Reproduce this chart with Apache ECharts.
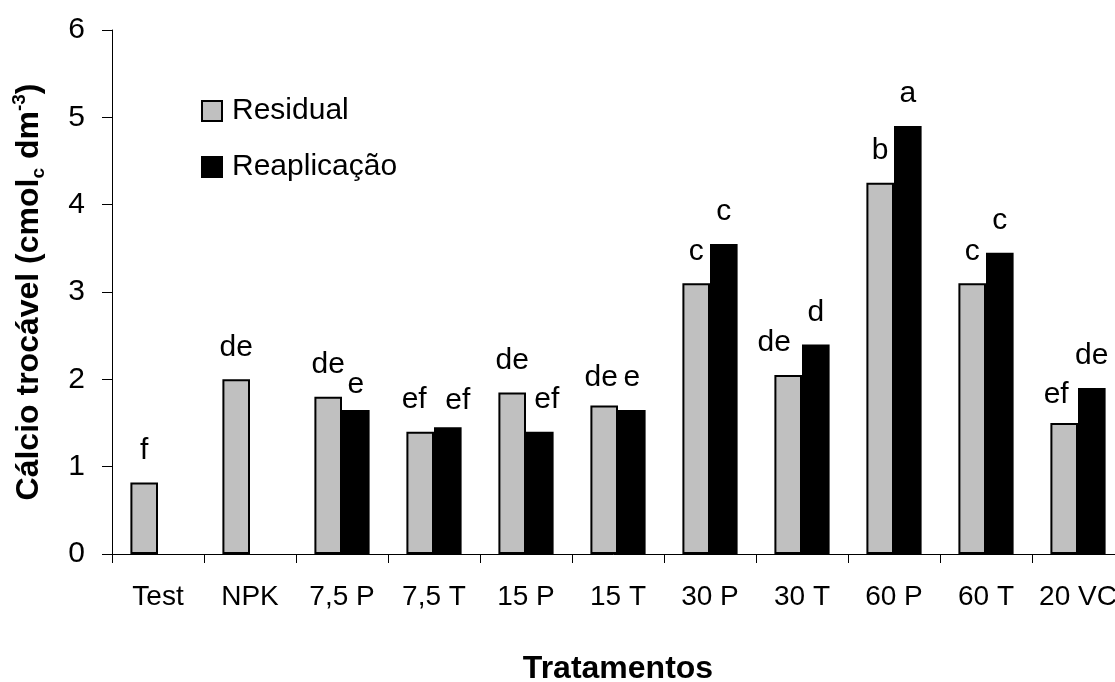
<!DOCTYPE html>
<html>
<head>
<meta charset="utf-8">
<script src="https://cdn.jsdelivr.net/npm/echarts@6/dist/echarts.min.js"></script>
<style>
  html, body { margin: 0; padding: 0; background: #fff; }
  #chart { width: 1115px; height: 682px; }
</style>
</head>
<body>
<div id="chart"></div>
<script>
// Exchangeable calcium per treatment (cmolc dm-3)
const categories = ['Test', 'NPK', '7,5 P', '7,5 T', '15 P', '15 T', '30 P', '30 T', '60 P', '60 T', '20 VC'];
const residual = [0.82, 2.00, 1.80, 1.40, 1.85, 1.70, 3.10, 2.05, 4.25, 3.10, 1.50];
const reaplicacao = [null, null, 1.65, 1.45, 1.40, 1.65, 3.55, 2.40, 4.90, 3.45, 1.90];
// Mean-comparison letters shown above the bars
const residualLetters = ['f', 'de', 'de', 'ef', 'de', 'de', 'c', 'de', 'b', 'c', 'ef'];
const reaplicacaoLetters = ['', '', 'e', 'ef', 'ef', 'e', 'c', 'd', 'a', 'c', 'de'];
const yTicks = [0, 1, 2, 3, 4, 5, 6];

// Small hand placement tweaks for letters that sit off-centre
const residualLabelShift = { '7,5 T': [-6, 0], '15 T': [-3, 4], '30 T': [-14, 0], '20 VC': [-8, 4] };
const reaplicacaoLabelShift = { '7,5 P': [0, 7], '7,5 T': [10, 5], '15 P': [7, 0] };

const FONT = 'Liberation Sans, Arial, Helvetica, sans-serif';

function buildData(values, letters, shifts) {
  return values.map(function (v, i) {
    const item = { value: v === null ? '-' : v, letter: letters[i] };
    const s = shifts[categories[i]];
    if (s) item.label = { offset: s };
    return item;
  });
}

const letterLabel = {
  show: true,
  position: 'top',
  distance: 17,
  color: '#000',
  fontFamily: FONT,
  fontSize: 30,
  formatter: function (p) { return p.data.letter || ''; }
};

const chart = echarts.init(document.getElementById('chart'), null, { renderer: 'canvas' });

chart.setOption({
  animation: false,
  backgroundColor: '#ffffff',
  textStyle: { fontFamily: FONT, color: '#000' },
  grid: { left: 112, right: -9, top: 30, bottom: 128, containLabel: false, outerBoundsMode: 'none' },
  legend: {
    orient: 'vertical',
    left: 201,
    top: 96,
    padding: 0,
    itemWidth: 20,
    itemHeight: 20,
    itemGap: 26,
    icon: 'rect',
    textStyle: { fontFamily: FONT, fontSize: 30, color: '#000', lineHeight: 30, padding: [0, 0, 0, 5] },
    data: ['Residual', 'Reaplicação']
  },
  xAxis: {
    type: 'category',
    data: categories,
    boundaryGap: true,
    name: 'Tratamentos',
    nameLocation: 'middle',
    nameGap: 99,
    nameTextStyle: { fontFamily: FONT, fontSize: 32, fontWeight: 'bold', color: '#000' },
    axisLine: { show: true, lineStyle: { color: '#000', width: 1 } },
    axisTick: { show: true, length: 9, inside: false, lineStyle: { color: '#000', width: 1 } },
    axisLabel: { color: '#000', fontFamily: FONT, fontSize: 28, margin: 29, interval: 0 },
    splitLine: { show: false }
  },
  yAxis: {
    type: 'value',
    min: 0,
    max: 6,
    interval: 1,
    name: 'Cálcio trocável (cmol{sub|c} dm{sup|-3})',
    nameLocation: 'middle',
    nameGap: 64,
    nameRotate: 90,
    nameTextStyle: {
      fontFamily: FONT, fontSize: 32, fontWeight: 'bold', color: '#000', lineHeight: 38,
      rich: {
        sub: { fontFamily: FONT, fontSize: 19, fontWeight: 'bold', color: '#000', verticalAlign: 'bottom', lineHeight: 38 },
        sup: { fontFamily: FONT, fontSize: 19, fontWeight: 'bold', color: '#000', verticalAlign: 'top', lineHeight: 38 }
      }
    },
    axisLine: { show: true, lineStyle: { color: '#000', width: 1 } },
    axisTick: { show: true, length: 10, inside: false, lineStyle: { color: '#000', width: 1 } },
    axisLabel: {
      color: '#000', fontFamily: FONT, fontSize: 30, margin: 27,
      formatter: function (v) { return yTicks.indexOf(v) >= 0 ? String(v) : ''; }
    },
    splitLine: { show: false }
  },
  series: [
    {
      name: 'Residual',
      type: 'bar',
      barWidth: '30%',
      barGap: '0%',
      itemStyle: { color: '#c0c0c0', borderColor: '#000', borderWidth: 2 },
      label: letterLabel,
      data: buildData(residual, residualLetters, residualLabelShift)
    },
    {
      name: 'Reaplicação',
      type: 'bar',
      barWidth: '30%',
      barGap: '0%',
      itemStyle: { color: '#000', borderColor: '#000', borderWidth: 2 },
      label: letterLabel,
      data: buildData(reaplicacao, reaplicacaoLetters, reaplicacaoLabelShift)
    }
  ]
});
</script>
</body>
</html>
